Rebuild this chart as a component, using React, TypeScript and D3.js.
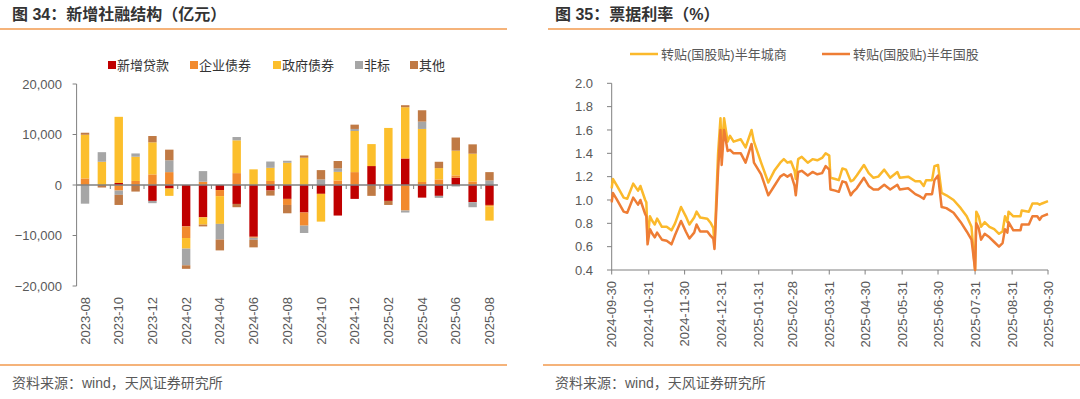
import React from 'react';
import * as d3 from 'd3';

// 新增社融结构（亿元）
const months = [
  '2023-08', '2023-09', '2023-10', '2023-11', '2023-12', '2024-01', '2024-02', '2024-03', '2024-04',
  '2024-05', '2024-06', '2024-07', '2024-08', '2024-09', '2024-10', '2024-11', '2024-12', '2025-01',
  '2025-02', '2025-03', '2025-04', '2025-05', '2025-06', '2025-07', '2025-08',
];
const newLoans = [0, 0, 400, 0, -3150, -700, -8200, -6400, -1000, -3750, -10250, -1100, -2750, -5450, -1750, -6050, -2750, 3750, -3150, 5250, -2500, -2150, 1450, -3400, -3950];
const corpBonds = [1300, 0, -1100, 800, 2100, 2550, -2300, 650, -1200, 2350, -200, 800, -1200, -2600, 0, 900, 2550, 0, 0, -5050, 600, 1100, 450, 700, -300];
const govBonds = [8650, 4600, 13100, 4800, 6350, -1450, -2100, -1450, -5500, 6500, 3100, 2600, 4400, 5400, -5500, 1700, 8150, 4350, 11300, 10150, 10500, 2250, 4900, 5500, -2800];
const nonStandard = [-3700, 1900, -850, 650, -450, 2350, -3300, 2100, -3100, 650, -400, 1250, 400, -1450, 1100, 700, 400, 0, 0, -400, 1450, -400, -300, -1000, 900];
const others = [400, -500, -2000, -1300, 1250, 2100, -700, -350, -2150, -650, -1500, -1000, -1650, 450, 1850, 1450, 850, -2150, -800, 400, 2250, 1250, 2600, 1850, 1650];
const seriesNames = ['新增贷款', '企业债券', '政府债券', '非标', '其他'];
const barTicks = [-20000, -10000, 0, 10000, 20000];

// 票据利率（%）
const rateDates = [
  '2024-09-30', '2024-10-01', '2024-10-04', '2024-10-10', '2024-10-13', '2024-10-18', '2024-10-22', '2024-10-24',
  '2024-10-28', '2024-10-29', '2024-10-30', '2024-11-01', '2024-11-03', '2024-11-05', '2024-11-07', '2024-11-11',
  '2024-11-15', '2024-11-19', '2024-11-22', '2024-11-27', '2024-12-01', '2024-12-04', '2024-12-08', '2024-12-10',
  '2024-12-13', '2024-12-19', '2024-12-22', '2024-12-24', '2024-12-25', '2024-12-28', '2024-12-30', '2024-12-31',
  '2025-01-02', '2025-01-05', '2025-01-07', '2025-01-10', '2025-01-16', '2025-01-20', '2025-01-25', '2025-01-27',
  '2025-02-02', '2025-02-08', '2025-02-13', '2025-02-18', '2025-02-21', '2025-02-24', '2025-02-27', '2025-03-02',
  '2025-03-03', '2025-03-05', '2025-03-08', '2025-03-13', '2025-03-17', '2025-03-21', '2025-03-25', '2025-03-28',
  '2025-03-31', '2025-04-01', '2025-04-05', '2025-04-08', '2025-04-11', '2025-04-14', '2025-04-18', '2025-04-20',
  '2025-04-23', '2025-04-29', '2025-05-03', '2025-05-07', '2025-05-11', '2025-05-16', '2025-05-21', '2025-05-27',
  '2025-05-29', '2025-06-05', '2025-06-11', '2025-06-15', '2025-06-18', '2025-06-20', '2025-06-25', '2025-06-27',
  '2025-06-30', '2025-07-03', '2025-07-07', '2025-07-13', '2025-07-19', '2025-07-24', '2025-07-28', '2025-07-30',
  '2025-07-31', '2025-08-01', '2025-08-03', '2025-08-05', '2025-08-08', '2025-08-12', '2025-08-16', '2025-08-20',
  '2025-08-23', '2025-08-25', '2025-08-27', '2025-08-28', '2025-09-01', '2025-09-07', '2025-09-08', '2025-09-14',
  '2025-09-17', '2025-09-21', '2025-09-23', '2025-09-25', '2025-09-30',
];
const cityBankRate = [
  1.10, 1.18, 1.13, 1.02, 1.01, 1.14, 1.08, 1.12, 1.00, 0.98, 0.66, 0.86, 0.82, 0.79, 0.84, 0.77,
  0.77, 0.74, 0.80, 0.94, 0.86, 0.79, 0.85, 0.90, 0.85, 0.84, 0.80, 0.76, 0.62, 1.40, 1.70, 1.40,
  1.70, 1.50, 1.55, 1.50, 1.52, 1.45, 1.60, 1.50, 1.32, 1.15, 1.25, 1.32, 1.35, 1.32, 1.33, 1.25,
  1.18, 1.35, 1.37, 1.32, 1.35, 1.34, 1.36, 1.40, 1.38, 1.19, 1.18, 1.17, 1.27, 1.26, 1.16, 1.17,
  1.21, 1.30, 1.23, 1.19, 1.20, 1.26, 1.19, 1.24, 1.19, 1.20, 1.16, 1.16, 1.12, 1.17, 1.17, 1.29,
  1.30, 1.06, 1.04, 1.00, 0.93, 0.86, 0.77, 0.51, 0.40, 0.90, 0.86, 0.77, 0.81, 0.77, 0.75, 0.71,
  0.73, 0.86, 0.81, 0.90, 0.86, 0.86, 0.91, 0.90, 0.97, 0.97, 0.96, 0.97, 0.99,
];
const stateBankRate = [
  0.98, 1.06, 1.01, 0.90, 0.89, 1.02, 0.96, 1.00, 0.88, 0.86, 0.62, 0.75, 0.71, 0.68, 0.72, 0.66,
  0.65, 0.62, 0.70, 0.82, 0.73, 0.67, 0.72, 0.79, 0.73, 0.73, 0.69, 0.67, 0.58, 1.25, 1.60, 1.30,
  1.60, 1.42, 1.43, 1.40, 1.40, 1.32, 1.48, 1.32, 1.22, 1.04, 1.12, 1.20, 1.22, 1.20, 1.22, 1.12,
  1.04, 1.24, 1.25, 1.21, 1.24, 1.22, 1.23, 1.29, 1.26, 1.09, 1.08, 1.07, 1.16, 1.15, 1.04, 1.07,
  1.10, 1.19, 1.12, 1.09, 1.09, 1.13, 1.09, 1.13, 1.09, 1.10, 1.05, 1.03, 1.01, 1.05, 1.05, 1.17,
  1.21, 0.94, 0.93, 0.89, 0.81, 0.73, 0.66, 0.49, 0.40, 0.80, 0.76, 0.66, 0.71, 0.68, 0.64, 0.60,
  0.63, 0.75, 0.72, 0.81, 0.74, 0.74, 0.79, 0.79, 0.86, 0.86, 0.83, 0.86, 0.88,
];
const rateNames = ['转贴(国股贴)半年城商', '转贴(国股贴)半年国股'];
const rateTickDates = [
  '2024-09-30', '2024-10-31', '2024-11-30', '2024-12-31', '2025-01-31', '2025-02-28', '2025-03-31',
  '2025-04-30', '2025-05-31', '2025-06-30', '2025-07-31', '2025-08-31', '2025-09-30',
];
const rateTicks = [0.4, 0.6, 0.8, 1.0, 1.2, 1.4, 1.6, 1.8, 2.0];

const barColors = ['#C00000', '#F28A2E', '#FCBF2C', '#A6A6A6', '#C07A45'];
const lineColors = ['#FBB92B', '#EE7D35'];
const FONT = "'Liberation Sans', Arial, 'Noto Sans CJK SC', sans-serif";
const TEXT = '#595959';
const AXIS = '#808080';
const RULE = '#F29A4E';

function BarPanel() {
  const x = d3.scaleBand().domain(months).range([76.6, 497.9]).paddingInner(0.5).paddingOuter(0.25);
  const y = d3.scaleLinear().domain([-20000, 20000]).range([286, 84]);
  const rows = months.map((m, i) => ({
    month: m, s0: newLoans[i], s1: corpBonds[i], s2: govBonds[i], s3: nonStandard[i], s4: others[i],
  }));
  const stack = d3.stack<any>().keys(['s0', 's1', 's2', 's3', 's4']).offset(d3.stackOffsetDiverging);
  const layers = stack(rows);
  const fmt = d3.format(',');
  const step = x.step();
  const legendX = [108, 190, 273, 355, 410];

  return (
    <g>
      <text x={12} y={20} fontSize={16} fontWeight="bold" fill="#333">图 34：新增社融结构（亿元）</text>
      <line x1={0} x2={507} y1={29} y2={29} stroke={RULE} strokeWidth={1.5} />

      {seriesNames.map((n, i) => (
        <g key={n}>
          <rect x={legendX[i]} y={61} width={8} height={8} fill={barColors[i]} />
          <text x={legendX[i] + 9} y={69.5} fontSize={13} fill="#333">{n}</text>
        </g>
      ))}

      {layers.map((layer, k) => (
        <g key={k} fill={barColors[k]}>
          {layer.map((d, i) => {
            const y0 = y(d[0]);
            const y1 = y(d[1]);
            const h = Math.abs(y0 - y1);
            if (h < 0.01) return null;
            return <rect key={i} x={x(months[i])} y={Math.min(y0, y1)} width={x.bandwidth()} height={h} />;
          })}
        </g>
      ))}

      <line x1={76.6} x2={76.6} y1={y(20000)} y2={y(-20000)} stroke={AXIS} strokeWidth={1} />
      {barTicks.map((t) => (
        <g key={t}>
          <line x1={72.6} x2={76.6} y1={y(t)} y2={y(t)} stroke={AXIS} />
          <text x={62} y={y(t)} dy="0.35em" textAnchor="end" fontSize={13} fill={TEXT}>{fmt(t)}</text>
        </g>
      ))}
      <line x1={76.6} x2={497.9} y1={y(0)} y2={y(0)} stroke={AXIS} strokeWidth={1.5} />
      {months.map((m, i) => (i > 0 && i % 2 === 0 ? (
        <line key={m} x1={(x(m) as number) - step * 0.25} x2={(x(m) as number) - step * 0.25}
          y1={y(0)} y2={y(0) + 4} stroke={AXIS} />
      ) : null))}
      {months.map((m, i) => (i % 2 === 0 ? (
        <text key={m} transform={`translate(${(x(m) as number) + x.bandwidth() / 2},297) rotate(-90)`}
          dy="0.35em" textAnchor="end" fontSize={13} fill={TEXT}>{m}</text>
      ) : null))}

      <line x1={0} x2={507} y1={365} y2={365} stroke={RULE} strokeWidth={1.5} />
      <text x={12} y={388} fontSize={14} fill={TEXT}>资料来源：wind，天风证券研究所</text>
    </g>
  );
}

function RatePanel() {
  const parse = d3.timeParse('%Y-%m-%d');
  const dates = rateDates.map((d) => parse(d) as Date);
  const x = d3.scaleTime().domain([parse('2024-09-30') as Date, parse('2025-09-30') as Date]).range([611.7, 1048]);
  const y = d3.scaleLinear().domain([0.4, 2.0]).range([270, 83.3]);
  const line = d3.line<number>().x((_, i) => x(dates[i])).y((v) => y(v));
  const series = [cityBankRate, stateBankRate];
  const legendX = [630, 822];

  return (
    <g>
      <text x={555} y={20} fontSize={16} fontWeight="bold" fill="#333">图 35：票据利率（%）</text>
      <line x1={548} x2={1080} y1={29} y2={29} stroke={RULE} strokeWidth={1.5} />

      {rateNames.map((n, i) => (
        <g key={n}>
          <line x1={legendX[i]} x2={legendX[i] + 28} y1={54} y2={54} stroke={lineColors[i]} strokeWidth={2.5} />
          <text x={legendX[i] + 31} y={54} dy="0.35em" fontSize={13} fill={TEXT}>{n}</text>
        </g>
      ))}

      <line x1={611.7} x2={611.7} y1={y(2.0)} y2={y(0.4)} stroke={AXIS} />
      {rateTicks.map((t) => (
        <g key={t}>
          <line x1={607} x2={611.7} y1={y(t)} y2={y(t)} stroke={AXIS} />
          <text x={593} y={y(t)} dy="0.35em" textAnchor="end" fontSize={13} fill={TEXT}>{t.toFixed(1)}</text>
        </g>
      ))}
      <line x1={611.7} x2={1048} y1={270} y2={270} stroke={AXIS} />
      {rateTickDates.map((d) => {
        const px = x(parse(d) as Date);
        return (
          <g key={d}>
            <line x1={px} x2={px} y1={270} y2={274.5} stroke={AXIS} />
            <text transform={`translate(${px},281) rotate(-90)`} dy="0.35em" textAnchor="end"
              fontSize={13} fill={TEXT}>{d}</text>
          </g>
        );
      })}

      {series.map((s, i) => (
        <path key={i} d={line(s) as string} fill="none" stroke={lineColors[i]} strokeWidth={2.5}
          strokeLinejoin="round" />
      ))}

      <line x1={543} x2={1080} y1={365} y2={365} stroke={RULE} strokeWidth={1.5} />
      <text x={555} y={388} fontSize={14} fill={TEXT}>资料来源：wind，天风证券研究所</text>
    </g>
  );
}

export default function App() {
  return (
    <svg width={1080} height={399} style={{ position: 'absolute', left: 0, top: 0, background: '#fff' }}
      fontFamily={FONT}>
      <rect width={1080} height={399} fill="#fff" />
      <BarPanel />
      <RatePanel />
    </svg>
  );
}
